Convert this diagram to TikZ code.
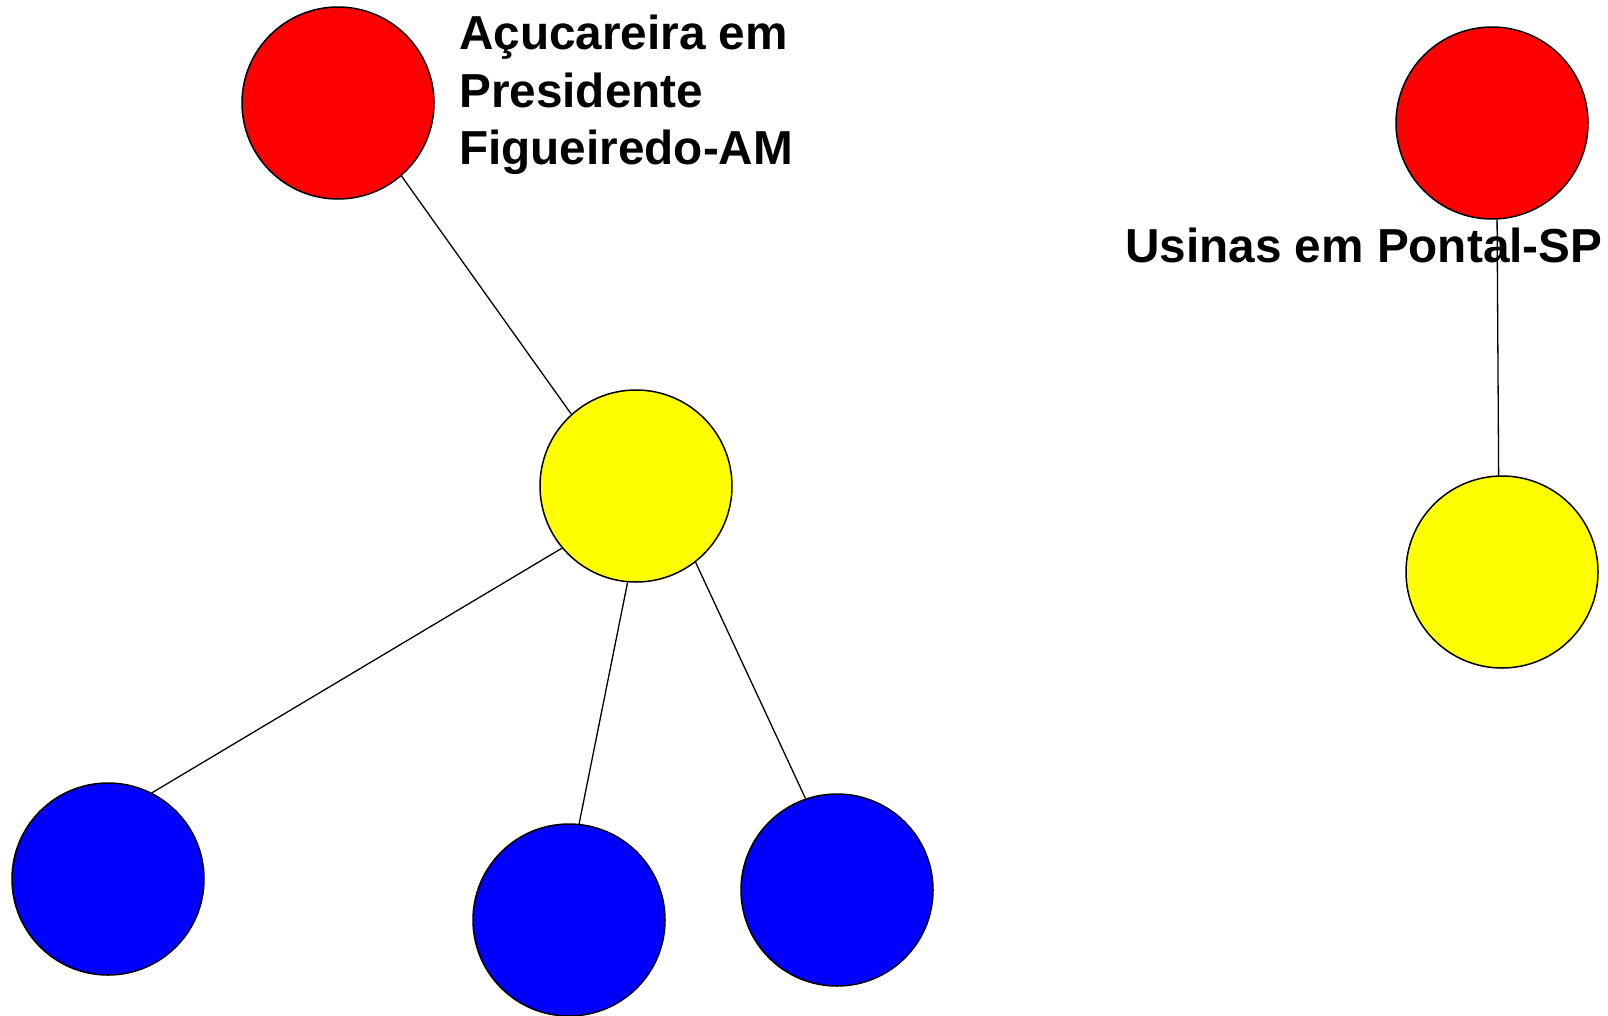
\documentclass[tikz,border=0pt]{standalone}
\usepackage{fontspec}
\setmainfont{Liberation Sans}
\definecolor{vred}{RGB}{255,0,0}
\definecolor{vyellow}{RGB}{255,255,0}
\definecolor{vblue}{RGB}{0,0,255}
\begin{document}
\begin{tikzpicture}[x=1pt,y=-1pt,
  vertex/.style={circle,draw=black,line width=1.5pt,minimum size=192pt,inner sep=0pt},
  redv/.style={vertex,fill=vred},
  yellowv/.style={vertex,fill=vyellow},
  bluev/.style={vertex,fill=vblue},
  edge/.style={draw=black,line width=1.3pt},
  lbl/.style={font=\fontsize{47.7}{57.4}\selectfont\bfseries,inner sep=0pt,align=left}]
\useasboundingbox (0,0) rectangle (1608,1015);
\fill[white] (0,0) rectangle (1608,1015);
% nodes
\node[redv] (r1) at (338,103) {};
\node[yellowv] (y1) at (636,486) {};
\node[bluev] (b1) at (108,879) {};
\node[bluev] (b2) at (569,920) {};
\node[bluev] (b3) at (837,890) {};
\node[redv] (r2) at (1492,123) {};
\node[yellowv] (y2) at (1502,572) {};
% edges (border to border)
\draw[edge] (r1.-49.7) -- (y1.132.9);
\draw[edge] (y1.220.5) -- (b1.63.4);
\draw[edge] (y1.265.4) -- (b2.84.5);
\draw[edge] (y1.-52.6) -- (b3.109.8);
\draw[edge] (r2.-87.5) -- (y2.92.4);
% labels
\node[lbl,anchor=west] (t1) at (459,95) {Açucareira em\\Presidente\\Figueiredo-AM};
\node[lbl,anchor=west] (t2) at (1125,245) {Usinas em Pontal-SP};
\end{tikzpicture}
\end{document}
